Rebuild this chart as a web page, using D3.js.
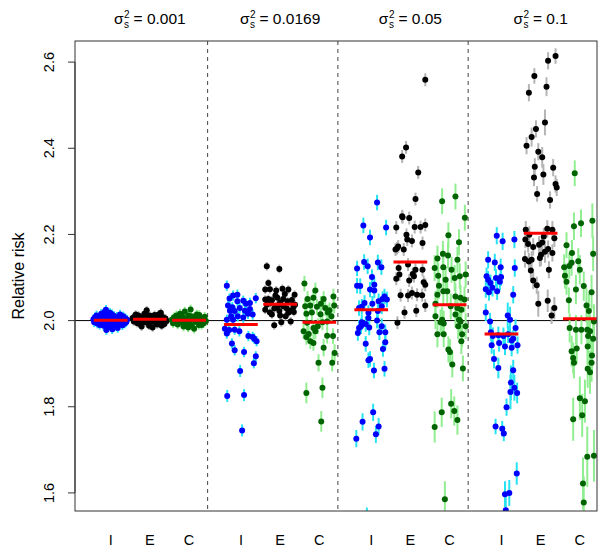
<!DOCTYPE html>
<html>
<head>
<meta charset="utf-8">
<script src="https://cdn.jsdelivr.net/npm/d3@7"></script>
<style>
body { margin: 0; background: #fff; }
text { font-family: "Liberation Sans", Arial, sans-serif; fill: #000; }
</style>
</head>
<body>
<div id="chart"></div>
<script>
// panel titles (sigma^2_s) and method labels
const panels = ['0.001', '0.0169', '0.05', '0.1'];
const methods = ['I', 'E', 'C'];
const yTicks = [1.6, 1.8, 2.0, 2.2, 2.4, 2.6];
const trueRR = 2.0;

// red lines: mean estimate per panel / method
const means = [
	[2.001, 2.003, 2.001],
	[1.991, 2.038, 1.996],
	[2.025, 2.136, 2.037],
	[1.969, 2.203, 2.004]
];

// each point: [jitter, relative risk, CI half width]
const p1I = [[-0.44,2.003,0.011],[-0.42,1.996,0.011],[-0.40,2.008,0.011],[-0.38,1.999,0.011],[-0.36,2.012,0.011],[-0.34,1.993,0.011],[-0.32,2.005,0.011],[-0.30,2.001,0.011],[-0.28,1.990,0.011],[-0.26,2.010,0.011],[-0.24,2.016,0.011],[-0.22,1.997,0.011],[-0.20,2.004,0.011],[-0.18,1.988,0.011],[-0.16,2.020,0.011],[-0.14,2.008,0.011],[-0.12,2.025,0.011],[-0.10,1.995,0.011],[-0.08,2.013,0.011],[-0.06,1.985,0.011],[-0.04,2.002,0.011],[-0.02,2.018,0.011],[0.00,1.992,0.011],[0.02,2.007,0.011],[0.04,1.980,0.011],[0.06,1.998,0.011],[0.08,2.011,0.011],[0.10,1.986,0.011],[0.12,2.004,0.011],[0.14,1.994,0.011],[0.16,2.009,0.011],[0.18,1.983,0.011],[0.20,2.000,0.011],[0.22,1.991,0.011],[0.24,2.014,0.011],[0.26,1.996,0.011],[0.28,2.006,0.011],[0.30,1.989,0.011],[0.32,2.010,0.011],[0.34,1.999,0.011],[0.36,1.993,0.011],[0.38,2.005,0.011],[0.40,1.997,0.011],[0.42,2.002,0.011],[-0.27,2.007,0.011],[0.03,2.015,0.011],[-0.11,1.978,0.011]];
const p1E = [[-0.44,2.006,0.010],[-0.41,1.998,0.010],[-0.38,2.010,0.010],[-0.35,2.002,0.010],[-0.32,1.994,0.010],[-0.29,2.012,0.010],[-0.26,2.004,0.010],[-0.23,1.990,0.010],[-0.20,2.008,0.010],[-0.17,2.000,0.010],[-0.14,2.016,0.010],[-0.11,1.996,0.010],[-0.08,2.024,0.010],[-0.05,2.006,0.010],[-0.02,1.988,0.010],[0.01,2.011,0.010],[0.04,2.000,0.010],[0.07,1.984,0.010],[0.10,2.008,0.010],[0.13,1.995,0.010],[0.16,2.003,0.010],[0.19,1.991,0.010],[0.22,2.014,0.010],[0.25,2.001,0.010],[0.28,2.018,0.010],[0.31,1.996,0.010],[0.34,2.008,0.010],[0.37,1.992,0.010],[0.40,2.005,0.010],[0.43,1.999,0.010],[-0.30,2.001,0.010],[-0.15,2.009,0.010],[0.00,1.997,0.010],[0.12,2.013,0.010],[0.27,2.006,0.010],[-0.06,2.013,0.010],[0.20,1.999,0.010],[-0.36,2.014,0.010],[0.35,2.000,0.010],[0.08,2.003,0.010],[-0.21,1.986,0.010],[0.30,1.988,0.010]];
const p1C = [[-0.44,2.002,0.011],[-0.41,1.994,0.011],[-0.38,2.008,0.011],[-0.35,1.999,0.011],[-0.32,2.012,0.011],[-0.29,1.991,0.011],[-0.26,2.004,0.011],[-0.23,2.016,0.011],[-0.20,1.996,0.011],[-0.17,2.009,0.011],[-0.14,1.986,0.011],[-0.11,2.021,0.011],[-0.08,2.003,0.011],[-0.05,1.993,0.011],[-0.02,2.012,0.011],[0.01,1.999,0.011],[0.04,2.026,0.011],[0.07,1.989,0.011],[0.10,2.006,0.011],[0.13,1.981,0.011],[0.16,2.010,0.011],[0.19,1.997,0.011],[0.22,2.004,0.011],[0.25,1.990,0.011],[0.28,2.007,0.011],[0.31,1.998,0.011],[0.34,2.002,0.011],[0.37,1.994,0.011],[0.40,2.009,0.011],[0.43,1.999,0.011],[-0.30,2.006,0.011],[-0.12,1.998,0.011],[0.05,2.010,0.011],[0.20,2.014,0.011],[-0.02,1.984,0.011],[0.32,1.990,0.011],[-0.40,1.997,0.011],[0.14,2.001,0.011],[-0.24,1.996,0.011],[0.26,2.013,0.011]];

const p2I = [[-0.36,2.081,0.012],[-0.29,2.051,0.012],[-0.20,2.058,0.012],[-0.09,2.060,0.012],[-0.33,2.035,0.012],[-0.22,2.031,0.012],[-0.09,2.045,0.012],[0.06,2.046,0.012],[0.13,2.039,0.012],[0.23,2.041,0.012],[0.38,2.052,0.012],[-0.28,2.023,0.012],[-0.16,2.022,0.012],[-0.03,2.029,0.012],[0.10,2.023,0.012],[0.23,2.027,0.012],[0.30,2.014,0.012],[-0.08,2.010,0.012],[-0.25,2.010,0.012],[-0.20,2.002,0.012],[0.06,2.007,0.012],[0.18,2.016,0.012],[-0.36,2.002,0.012],[-0.41,1.981,0.012],[-0.30,1.978,0.012],[-0.16,1.979,0.012],[-0.04,1.975,0.012],[-0.36,1.970,0.012],[0.19,1.964,0.012],[0.30,1.962,0.012],[0.40,1.952,0.012],[0.34,1.958,0.012],[-0.23,1.947,0.012],[-0.16,1.931,0.012],[0.08,1.927,0.012],[0.38,1.917,0.012],[0.33,1.901,0.012],[-0.02,1.883,0.014],[-0.35,1.825,0.014],[0.08,1.827,0.014],[0.03,1.745,0.014]];
const p2E = [[-0.34,2.126,0.010],[-0.02,2.120,0.010],[-0.30,2.087,0.010],[-0.38,2.072,0.010],[-0.26,2.073,0.010],[-0.10,2.070,0.010],[0.06,2.074,0.010],[0.21,2.072,0.010],[0.37,2.060,0.010],[-0.38,2.049,0.010],[-0.30,2.050,0.010],[-0.21,2.047,0.010],[-0.07,2.053,0.010],[0.00,2.042,0.010],[0.08,2.050,0.010],[0.19,2.045,0.010],[0.38,2.037,0.010],[-0.38,2.025,0.010],[-0.26,2.019,0.010],[-0.15,2.028,0.010],[-0.02,2.022,0.010],[0.08,2.033,0.010],[0.17,2.028,0.010],[0.26,2.023,0.010],[0.34,2.031,0.010],[-0.21,2.014,0.010],[0.00,2.012,0.010],[0.27,1.998,0.010],[0.03,1.996,0.010],[-0.15,1.989,0.010],[0.21,2.018,0.010],[-0.34,2.037,0.010],[-0.10,2.033,0.010],[0.14,2.010,0.010],[-0.25,2.040,0.010],[0.30,2.048,0.010],[0.12,2.062,0.010],[-0.05,2.035,0.010],[0.35,2.020,0.010],[-0.12,2.058,0.010]];
const p2C = [[-0.38,2.086,0.018],[-0.10,2.070,0.018],[-0.30,2.050,0.018],[-0.15,2.053,0.018],[0.11,2.050,0.018],[0.36,2.056,0.018],[-0.36,2.033,0.018],[-0.23,2.035,0.018],[-0.06,2.032,0.018],[0.04,2.039,0.018],[0.15,2.029,0.018],[0.26,2.024,0.018],[0.38,2.035,0.018],[-0.33,2.016,0.018],[-0.19,2.019,0.018],[0.03,2.015,0.018],[0.22,2.019,0.018],[0.31,2.010,0.018],[-0.31,1.995,0.018],[-0.15,1.983,0.018],[-0.04,1.987,0.018],[0.08,1.996,0.018],[0.20,1.998,0.018],[-0.40,1.975,0.018],[-0.27,1.969,0.018],[-0.10,1.975,0.018],[0.20,1.965,0.018],[0.35,1.964,0.018],[-0.23,1.952,0.018],[-0.15,1.948,0.018],[-0.33,1.962,0.018],[0.11,1.937,0.020],[0.39,1.925,0.020],[-0.02,1.902,0.020],[0.33,1.902,0.020],[-0.33,1.832,0.024],[0.08,1.844,0.024],[0.05,1.766,0.024]];

const p3I = [[0.15,2.274,0.018],[-0.20,2.221,0.018],[0.38,2.216,0.018],[-0.03,2.193,0.018],[-0.18,2.136,0.018],[-0.09,2.126,0.018],[0.17,2.135,0.018],[0.26,2.124,0.018],[-0.36,2.121,0.018],[0.02,2.101,0.018],[0.08,2.083,0.018],[-0.36,2.081,0.018],[-0.28,2.080,0.018],[-0.03,2.072,0.018],[0.08,2.070,0.018],[0.34,2.056,0.018],[0.29,2.050,0.018],[0.40,2.049,0.018],[0.19,2.045,0.018],[0.03,2.039,0.018],[-0.17,2.041,0.018],[-0.31,2.029,0.018],[-0.24,2.032,0.018],[-0.07,2.018,0.018],[0.17,2.022,0.018],[0.27,2.033,0.018],[-0.24,1.996,0.018],[-0.14,1.992,0.018],[0.15,2.000,0.018],[-0.31,1.983,0.018],[-0.05,1.984,0.018],[0.21,1.973,0.018],[0.36,1.973,0.018],[-0.34,1.971,0.018],[-0.26,1.987,0.018],[-0.07,2.006,0.018],[0.27,1.987,0.018],[0.36,1.950,0.018],[-0.14,1.946,0.018],[0.30,1.934,0.018],[-0.07,1.908,0.018],[-0.03,1.911,0.018],[0.07,1.884,0.018],[0.34,1.888,0.018],[0.05,1.787,0.020],[-0.22,1.765,0.020],[0.19,1.754,0.020],[0.12,1.736,0.020],[-0.38,1.726,0.020],[-0.11,1.540,0.026]];
const p3E = [[-0.11,2.402,0.015],[-0.21,2.381,0.015],[0.20,2.344,0.015],[0.13,2.282,0.015],[-0.36,2.216,0.015],[-0.20,2.240,0.015],[-0.03,2.238,0.015],[0.11,2.217,0.015],[0.26,2.217,0.015],[0.38,2.222,0.015],[-0.10,2.199,0.015],[0.04,2.185,0.015],[-0.38,2.165,0.015],[-0.31,2.172,0.015],[-0.17,2.165,0.015],[-0.08,2.188,0.015],[0.31,2.180,0.015],[-0.30,2.122,0.015],[-0.06,2.130,0.015],[0.13,2.118,0.015],[-0.28,2.107,0.015],[0.06,2.108,0.015],[0.09,2.103,0.015],[0.31,2.118,0.015],[-0.36,2.097,0.015],[-0.03,2.093,0.015],[0.34,2.089,0.015],[0.38,2.083,0.015],[-0.25,2.059,0.015],[-0.06,2.058,0.015],[0.04,2.064,0.015],[0.17,2.060,0.015],[0.30,2.059,0.015],[0.38,2.035,0.015],[-0.15,2.019,0.015],[0.15,2.023,0.015],[-0.33,1.995,0.015],[0.38,2.559,0.015],[-0.34,2.168,0.015],[-0.21,2.242,0.015]];
const p3C = [[-0.19,2.277,0.030],[0.15,2.288,0.030],[0.39,2.239,0.030],[-0.03,2.198,0.030],[0.24,2.182,0.030],[-0.17,2.155,0.030],[-0.31,2.144,0.030],[-0.04,2.151,0.030],[0.20,2.141,0.030],[-0.38,2.122,0.030],[-0.16,2.124,0.030],[0.05,2.118,0.030],[-0.29,2.104,0.030],[0.13,2.099,0.030],[-0.10,2.095,0.030],[0.26,2.103,0.030],[0.41,2.107,0.030],[-0.27,2.081,0.030],[-0.06,2.068,0.030],[0.15,2.056,0.030],[0.28,2.053,0.030],[0.38,2.049,0.030],[-0.31,2.060,0.030],[-0.16,2.068,0.030],[-0.36,2.039,0.030],[0.03,2.033,0.030],[0.20,2.029,0.030],[0.30,2.025,0.030],[0.15,2.014,0.030],[-0.36,2.010,0.030],[-0.19,2.002,0.030],[0.28,1.998,0.030],[-0.31,1.968,0.030],[-0.15,1.968,0.030],[0.22,1.987,0.030],[0.41,1.987,0.030],[-0.23,1.996,0.030],[-0.15,1.993,0.030],[0.24,2.002,0.030],[0.32,1.968,0.030],[0.30,1.952,0.030],[-0.03,1.933,0.030],[0.01,1.927,0.030],[0.07,1.898,0.030],[0.34,1.889,0.030],[0.04,1.807,0.034],[-0.20,1.787,0.034],[0.12,1.790,0.034],[0.20,1.769,0.034],[-0.38,1.753,0.036],[-0.12,1.585,0.042]];

const p4I = [[-0.12,2.197,0.020],[0.03,2.184,0.020],[0.33,2.188,0.020],[-0.34,2.141,0.020],[-0.17,2.135,0.020],[-0.02,2.124,0.020],[0.34,2.122,0.020],[-0.38,2.103,0.020],[-0.34,2.095,0.020],[-0.14,2.099,0.020],[-0.01,2.101,0.020],[-0.04,2.090,0.020],[-0.28,2.087,0.020],[-0.40,2.073,0.020],[-0.32,2.066,0.020],[-0.23,2.076,0.020],[-0.11,2.068,0.020],[0.30,2.060,0.020],[-0.40,2.019,0.020],[-0.29,1.998,0.020],[0.16,2.012,0.030],[0.22,2.002,0.030],[0.36,1.983,0.020],[-0.22,1.964,0.020],[-0.08,1.966,0.020],[0.05,1.964,0.020],[0.17,1.968,0.020],[-0.27,1.973,0.020],[-0.25,1.943,0.020],[-0.06,1.948,0.020],[0.09,1.940,0.020],[0.26,1.937,0.020],[0.41,1.943,0.020],[0.30,1.958,0.020],[0.26,1.954,0.020],[-0.19,1.911,0.022],[-0.08,1.890,0.024],[0.30,1.885,0.024],[0.24,1.856,0.040],[0.33,1.844,0.030],[0.23,1.834,0.040],[0.40,1.832,0.024],[0.13,1.799,0.020],[-0.15,1.754,0.018],[0.02,1.749,0.018],[0.06,1.738,0.018],[0.39,1.645,0.026],[0.20,1.600,0.030],[0.09,1.597,0.030],[0.11,1.560,0.030]];
const p4E = [[0.38,2.614,0.018],[0.19,2.603,0.020],[-0.16,2.568,0.018],[0.15,2.543,0.022],[-0.30,2.529,0.020],[0.11,2.460,0.030],[-0.12,2.445,0.020],[-0.23,2.426,0.022],[-0.36,2.406,0.020],[-0.06,2.392,0.020],[0.04,2.379,0.024],[-0.15,2.357,0.020],[0.32,2.355,0.020],[-0.17,2.332,0.020],[0.07,2.339,0.024],[0.38,2.317,0.020],[0.41,2.309,0.020],[-0.09,2.294,0.018],[0.24,2.280,0.020],[-0.38,2.211,0.020],[0.17,2.213,0.020],[0.30,2.211,0.020],[-0.39,2.188,0.020],[-0.29,2.199,0.020],[0.08,2.195,0.020],[0.35,2.191,0.020],[-0.32,2.178,0.020],[-0.19,2.171,0.020],[-0.04,2.176,0.020],[0.04,2.181,0.020],[0.19,2.166,0.020],[0.30,2.157,0.020],[0.11,2.160,0.026],[0.01,2.153,0.026],[-0.02,2.145,0.020],[-0.40,2.143,0.020],[-0.30,2.137,0.020],[-0.23,2.141,0.020],[-0.25,2.116,0.020],[0.21,2.118,0.020],[-0.19,2.093,0.020],[-0.10,2.082,0.020],[-0.06,2.039,0.030],[0.18,2.046,0.026],[0.35,2.029,0.026],[0.28,2.012,0.020]];
const p4C = [[-0.13,2.342,0.030],[0.03,2.226,0.032],[-0.15,2.219,0.032],[0.32,2.232,0.040],[-0.34,2.175,0.030],[-0.20,2.157,0.030],[0.34,2.155,0.040],[-0.40,2.124,0.030],[-0.27,2.127,0.030],[-0.21,2.134,0.030],[-0.04,2.138,0.030],[0.00,2.118,0.034],[-0.38,2.104,0.030],[-0.34,2.090,0.030],[-0.10,2.072,0.034],[0.10,2.080,0.034],[0.30,2.066,0.040],[-0.28,2.047,0.030],[0.17,2.035,0.040],[0.23,2.022,0.040],[-0.26,1.983,0.034],[-0.10,1.979,0.034],[0.04,1.979,0.034],[0.19,1.979,0.034],[0.36,1.998,0.040],[0.26,1.975,0.040],[0.34,1.958,0.040],[-0.21,1.929,0.036],[-0.08,1.935,0.036],[0.20,1.940,0.040],[0.31,1.919,0.044],[-0.17,1.913,0.036],[-0.15,1.902,0.036],[0.21,1.964,0.040],[0.20,1.888,0.044],[0.26,1.880,0.050],[0.30,1.902,0.044],[0.00,1.820,0.050],[0.13,1.813,0.050],[0.06,1.780,0.050],[-0.17,1.771,0.050],[0.19,1.684,0.070],[0.36,1.686,0.060],[0.08,1.622,0.060],[0.10,1.578,0.060]];

const groups = [[p1I, p1E, p1C], [p2I, p2E, p2C], [p3I, p3E, p3C], [p4I, p4E, p4C]];

const pointColour = ['#0000ff', '#000000', '#006400'];
const barColour = ['#27e3f2', '#b4b4b4', '#90ee90'];

const width = 603, height = 551;
const margin = {top: 41, right: 6, bottom: 40, left: 75};
const panelStep = 3.324;

const svg = d3.select('#chart').append('svg')
	.attr('width', width)
	.attr('height', height);

const x = d3.scaleLinear()
	.domain([-0.91, 12.41])
	.range([margin.left, width - margin.right]);

const y = d3.scaleLinear()
	.domain([1.558, 2.649])
	.range([height - margin.bottom, margin.top]);

const pos = (p, g) => p * panelStep + g;

svg.append('clipPath').attr('id', 'plot-clip')
	.append('rect')
		.attr('x', margin.left)
		.attr('y', margin.top)
		.attr('width', width - margin.right - margin.left)
		.attr('height', height - margin.bottom - margin.top);

// panel separators
svg.append('g')
	.selectAll('line')
	.data([1, 2, 3])
	.enter()
	.append('line')
		.attr('x1', d => x(d * panelStep - 0.85))
		.attr('x2', d => x(d * panelStep - 0.85))
		.attr('y1', margin.top)
		.attr('y2', height - margin.bottom)
		.attr('stroke', '#444')
		.attr('stroke-width', 1)
		.attr('stroke-dasharray', '4,4');

// reference line at the true relative risk
svg.append('line')
	.attr('x1', margin.left)
	.attr('x2', width - margin.right)
	.attr('y1', y(trueRR))
	.attr('y2', y(trueRR))
	.attr('stroke', '#000')
	.attr('stroke-width', 1);

const plot = svg.append('g').attr('clip-path', 'url(#plot-clip)');

groups.forEach((panel, p) => {
	panel.forEach((pts, g) => {
		const grp = plot.append('g');

		grp.selectAll('line')
			.data(pts)
			.enter()
			.append('line')
				.attr('x1', d => x(pos(p, g) + d[0]))
				.attr('x2', d => x(pos(p, g) + d[0]))
				.attr('y1', d => y(d[1] - d[2]))
				.attr('y2', d => y(d[1] + d[2]))
				.attr('stroke', barColour[g])
				.attr('stroke-width', 2);

		grp.selectAll('circle')
			.data(pts)
			.enter()
			.append('circle')
				.attr('cx', d => x(pos(p, g) + d[0]))
				.attr('cy', d => y(d[1]))
				.attr('r', 3)
				.attr('fill', pointColour[g]);

		plot.append('line')
			.attr('x1', x(pos(p, g) - 0.43))
			.attr('x2', x(pos(p, g) + 0.43))
			.attr('y1', y(means[p][g]))
			.attr('y2', y(means[p][g]))
			.attr('stroke', '#ff0000')
			.attr('stroke-width', 3);
	});
});

// frame
svg.append('rect')
	.attr('x', margin.left)
	.attr('y', margin.top)
	.attr('width', width - margin.right - margin.left)
	.attr('height', height - margin.bottom - margin.top)
	.attr('fill', 'none')
	.attr('stroke', '#333')
	.attr('stroke-width', 1);

// y axis
const yAxis = svg.append('g');
yAxis.append('line')
	.attr('x1', margin.left).attr('x2', margin.left)
	.attr('y1', y(1.6)).attr('y2', y(2.6))
	.attr('stroke', '#333');
yAxis.selectAll('.tick')
	.data(yTicks)
	.enter()
	.append('line')
		.attr('x1', margin.left - 7)
		.attr('x2', margin.left)
		.attr('y1', d => y(d))
		.attr('y2', d => y(d))
		.attr('stroke', '#333');
yAxis.selectAll('text')
	.data(yTicks)
	.enter()
	.append('text')
		.attr('transform', d => `translate(54,${y(d)}) rotate(-90)`)
		.attr('text-anchor', 'middle')
		.attr('font-size', 14.5)
		.text(d => d3.format('.1f')(d));

svg.append('text')
	.attr('transform', `translate(24,${(margin.top + height - margin.bottom) / 2}) rotate(-90)`)
	.attr('text-anchor', 'middle')
	.attr('font-size', 16)
	.text('Relative risk');

// method labels under each group
panels.forEach((s, p) => {
	svg.append('g')
		.selectAll('text')
		.data(methods)
		.enter()
		.append('text')
			.attr('x', (d, g) => x(pos(p, g)))
			.attr('y', 545)
			.attr('text-anchor', 'middle')
			.attr('font-size', 14.5)
			.text(d => d);
});

// panel titles: sigma^2_s = value
panels.forEach((s, p) => {
	const t = svg.append('g');
	const sig = t.append('text').attr('font-size', 15.5).text('σ');
	const w = sig.node().getComputedTextLength();
	t.append('text').attr('x', w + 0.5).attr('y', -6).attr('font-size', 10).text('2');
	t.append('text').attr('x', w + 0.5).attr('y', 4).attr('font-size', 10).text('s');
	t.append('text').attr('x', w + 10).attr('font-size', 15.5).text('= ' + s);
	const bb = t.node().getBBox();
	t.attr('transform', `translate(${x(pos(p, 1)) - bb.width / 2},24)`);
});
</script>
</body>
</html>
